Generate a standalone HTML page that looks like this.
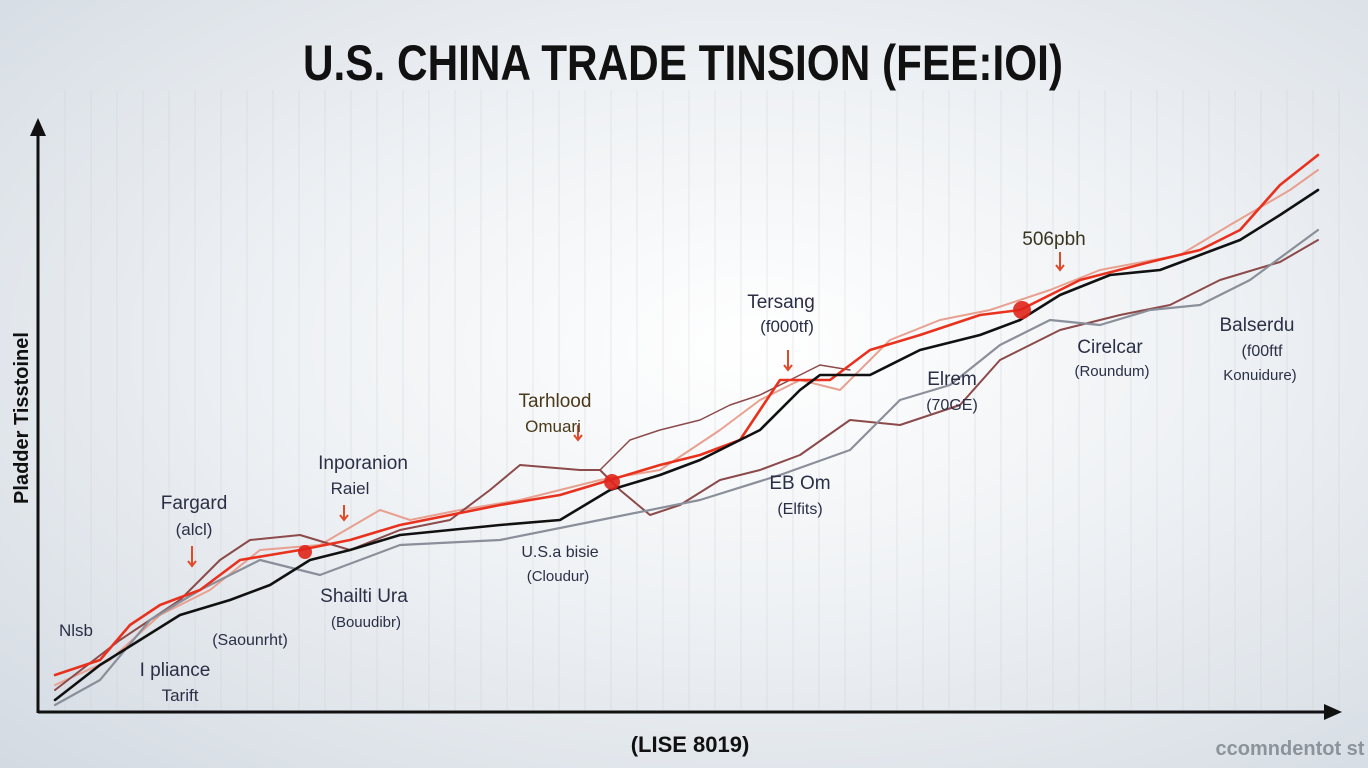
<!DOCTYPE html>
<html><head><meta charset="utf-8"><style>
html,body{margin:0;padding:0}
body{width:1368px;height:768px;overflow:hidden;background:radial-gradient(ellipse at 55% 45%,#ffffff 0%,#eef1f4 45%,#d3dae2 100%);font-family:"Liberation Sans",sans-serif}
svg{position:absolute;left:0;top:0}
</style></head><body>
<svg width="1368" height="768" viewBox="0 0 1368 768">
<defs>
<pattern id="g" width="26" height="768" patternUnits="userSpaceOnUse"><line x1="13" y1="0" x2="13" y2="768" stroke="#c9ced6" stroke-width="1" opacity="0.6"/></pattern>
</defs>
<rect x="40" y="90" width="1300" height="620" fill="url(#g)" opacity="0.7"/>
<text x="683" y="80" text-anchor="middle" font-size="50" font-weight="bold" fill="#111" font-family="Liberation Sans Narrow,Liberation Sans,sans-serif" textLength="760" lengthAdjust="spacingAndGlyphs">U.S. CHINA TRADE TINSION (FEE:IOI)</text>
<!-- axes -->
<line x1="38" y1="130" x2="38" y2="713" stroke="#111" stroke-width="3"/>
<polygon points="38,118 30,136 46,136" fill="#111"/>
<line x1="38" y1="712" x2="1330" y2="712" stroke="#111" stroke-width="3"/>
<polygon points="1342,712 1324,704 1324,720" fill="#111"/>
<text transform="translate(28,418) rotate(-90)" text-anchor="middle" font-size="20" font-weight="bold" fill="#111">Pladder Tisstoinel</text>
<text x="690" y="752" text-anchor="middle" font-size="22" font-weight="bold" fill="#111">(LISE 8019)</text>
<text x="1290" y="755" text-anchor="middle" font-size="20" font-weight="bold" fill="#8c939b">ccomndentot st</text>
<!-- series -->
<g fill="none" stroke-linejoin="round" stroke-linecap="round">
<polyline stroke="#e8a090" stroke-width="2" points="55,685 110,660 160,615 210,590 260,550 320,545 380,510 410,520 460,510 520,500 600,480 660,470 720,430 760,400 800,380 840,390 890,340 940,320 990,310 1050,290 1100,270 1180,255 1230,225 1290,190 1318,170"/>
<polyline stroke="#8c4a4a" stroke-width="2" points="55,690 120,640 180,600 220,560 250,540 300,535 350,550 400,530 450,520 490,490 520,465 580,470 600,470 620,490 650,515 680,505 720,480 760,470 800,455 850,420 900,425 960,405 1000,360 1020,350 1060,330 1120,315 1170,305 1220,280 1280,262 1318,240"/>
<polyline stroke="#8c4a4a" stroke-width="1.5" points="600,470 630,440 660,430 700,420 730,405 760,395 790,380 820,365 850,370"/>
<polyline stroke="#8a8f9a" stroke-width="2.2" points="55,705 100,680 150,620 200,590 260,560 320,575 400,545 500,540 600,520 700,500 780,475 850,450 900,400 950,385 1000,345 1050,320 1100,325 1150,310 1200,305 1250,280 1318,230"/>
<polyline stroke="#e8321e" stroke-width="2.6" points="55,675 100,660 130,625 160,605 200,590 240,560 300,550 350,540 400,525 450,515 500,505 560,495 610,480 660,465 700,455 740,440 780,380 830,380 870,350 920,335 980,315 1020,310 1080,280 1150,262 1200,250 1240,230 1280,185 1318,155"/>
<polyline stroke="#111" stroke-width="2.6" points="55,700 100,665 140,640 180,615 230,600 270,585 310,560 350,550 400,535 450,530 500,525 560,520 610,490 660,475 700,460 760,430 800,390 820,375 870,375 920,350 980,335 1020,320 1060,295 1110,275 1160,270 1200,255 1240,240 1280,215 1318,190"/>
</g>
<g fill="#e0241b" opacity="0.9">
<circle cx="305" cy="552" r="7"/><circle cx="612" cy="482" r="8"/><circle cx="1022" cy="310" r="9"/>
</g>
<g stroke="#e04a2a" stroke-width="2" fill="none">
<path d="M192,546 v20 m-4,-5 l4,5 l4,-5"/><path d="M344,505 v15 m-4,-5 l4,5 l4,-5"/><path d="M578,425 v15 m-4,-5 l4,5 l4,-5"/><path d="M788,350 v20 m-4,-5 l4,5 l4,-5"/><path d="M1060,252 v18 m-4,-5 l4,5 l4,-5"/>
</g>
<g font-size="19" fill="#2a2f45" text-anchor="middle">
<text x="194" y="509">Fargard</text><text x="194" y="535" font-size="17">(alcl)</text>
<text x="363" y="469">Inporanion</text><text x="350" y="494" font-size="17">Raiel</text>
<text x="555" y="407" fill="#4a3a1a">Tarhlood</text><text x="553" y="432" font-size="17" fill="#4a3a1a">Omuari</text>
<text x="781" y="308">Tersang</text><text x="787" y="332" font-size="17">(f000tf)</text>
<text x="1054" y="245" fill="#3a3520">506pbh</text>
<text x="1110" y="353">Cirelcar</text><text x="1112" y="376" font-size="15">(Roundum)</text>
<text x="1257" y="331">Balserdu</text><text x="1262" y="356" font-size="16">(f00ftf</text><text x="1260" y="380" font-size="15">Konuidure)</text>
<text x="952" y="385">Elrem</text><text x="952" y="410" font-size="16">(70GE)</text>
<text x="800" y="489">EB Om</text><text x="800" y="514" font-size="16">(Elfits)</text>
<text x="560" y="557" font-size="16">U.S.a bisie</text><text x="558" y="581" font-size="15">(Cloudur)</text>
<text x="364" y="602">Shailti Ura</text><text x="366" y="627" font-size="15">(Bouudibr)</text>
<text x="250" y="645" font-size="16">(Saounrht)</text>
<text x="76" y="636" font-size="17">Nlsb</text>
<text x="175" y="676">I pliance</text><text x="180" y="701" font-size="17">Tarift</text>
</g>
</svg>
</body></html>
